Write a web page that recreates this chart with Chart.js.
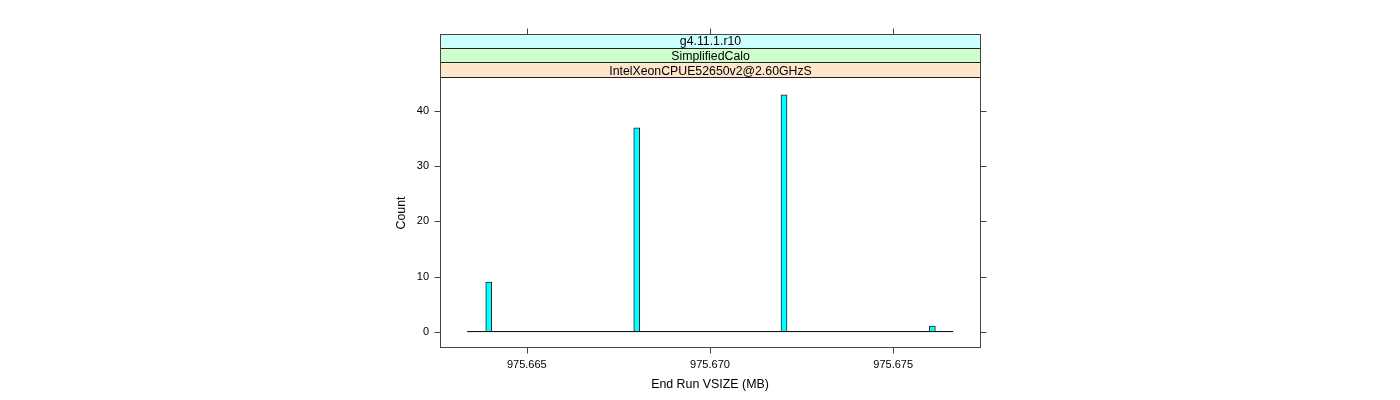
<!DOCTYPE html>
<html><head><meta charset="utf-8">
<script src="https://cdn.jsdelivr.net/npm/chart.js@4/dist/chart.umd.min.js"></script>
<style>html,body{margin:0;padding:0;background:#fff}canvas{display:block}</style>
</head><body>
<canvas id="c" width="1400" height="400"></canvas>
<script>
// ---- data ----
const binCenters = [975.66396, 975.66800, 975.67202, 975.67607];
const counts = [9, 37, 43, 1];
const histRange = [975.66337, 975.67664];
const xTicks = [975.665, 975.670, 975.675];
const yTicks = [0, 10, 20, 30, 40];
const xLimits = [975.66263, 975.67737];
const yLimits = [-2.98, 46.05];
const stripLabels = ['g4.11.1.r10', 'SimplifiedCalo', 'IntelXeonCPUE52650v2@2.60GHzS'];
const stripColors = ['#CCFFFF', '#CCFFCC', '#FFE5CC'];
const xTitle = 'End Run VSIZE (MB)';
const yTitle = 'Count';

const FONT = '"Liberation Sans", Arial, Helvetica, sans-serif';
Chart.defaults.font.family = FONT;
Chart.defaults.color = '#000';

const STRIP_H = 14.6;
const lineCol = '#444';

const panelPlugin = {
  id: 'panel',
  afterDraw(chart) {
    const ctx = chart.ctx;
    const a = chart.chartArea;
    const xs = chart.scales.x, ys = chart.scales.y;
    const L = Math.round(a.left) + 0.5, R = Math.round(a.right) + 0.5;
    const B = Math.round(a.bottom) - 0.5;
    const stripTop = a.top - STRIP_H * stripLabels.length;
    ctx.save();
    for (let i = 0; i < stripLabels.length; i++) {
      const y0 = stripTop + i * STRIP_H;
      ctx.fillStyle = stripColors[i];
      ctx.fillRect(L, y0, R - L, STRIP_H);
      ctx.fillStyle = '#000';
      ctx.font = '12.3px ' + FONT;
      ctx.textAlign = 'center';
      ctx.textBaseline = 'middle';
      ctx.fillText(stripLabels[i], (L + R) / 2, y0 + STRIP_H / 2 + 0.5);
    }
    ctx.strokeStyle = '#222';
    ctx.lineWidth = 1;
    for (let i = 1; i <= stripLabels.length; i++) {
      const y = Math.round(stripTop + i * STRIP_H) - 0.5;
      ctx.beginPath(); ctx.moveTo(L, y); ctx.lineTo(R, y); ctx.stroke();
    }
    ctx.strokeStyle = lineCol;
    const T = Math.round(stripTop) + 0.5;
    ctx.strokeRect(L, T, R - L, B - T);
    ctx.beginPath();
    xTicks.forEach(v => {
      const x = Math.round(xs.getPixelForValue(v)) + 0.5;
      ctx.moveTo(x, T - 6); ctx.lineTo(x, T);
      ctx.moveTo(x, B); ctx.lineTo(x, B + 6);
    });
    yTicks.forEach(v => {
      const y = Math.round(ys.getPixelForValue(v)) + 0.5;
      ctx.moveTo(R, y); ctx.lineTo(R + 6, y);
      ctx.moveTo(L - 6, y); ctx.lineTo(L, y);
    });
    ctx.stroke();
    ctx.restore();
  }
};

new Chart(document.getElementById('c'), {
  data: {
    datasets: [
      {
        type: 'line',
        data: histRange.map(x => ({ x: x, y: 0 })),
        borderColor: '#000',
        borderWidth: 1,
        pointRadius: 0,
        order: 2
      },
      {
        type: 'bar',
        data: binCenters.map((x, i) => ({ x: x, y: counts[i] })),
        backgroundColor: '#00FFFF',
        borderColor: '#222',
        borderWidth: 1,
        borderSkipped: 'start',
        barThickness: 6,
        order: 1
      }
    ]
  },
  options: {
    responsive: false,
    animation: false,
    devicePixelRatio: 1,
    layout: { padding: { left: 390, right: 420, top: 78, bottom: 0 } },
    plugins: { legend: { display: false }, tooltip: { enabled: false } },
    scales: {
      x: {
        type: 'linear',
        bounds: 'data',
        offset: false,
        min: xLimits[0], max: xLimits[1],
        afterBuildTicks: s => { s.ticks = xTicks.map(v => ({ value: v })); },
        afterFit: s => { s.height = 52; },
        border: { display: false },
        grid: { display: true, offset: false, drawOnChartArea: false, drawTicks: true, tickLength: 6, color: 'rgba(0,0,0,0)' },
        ticks: { font: { size: 11 }, padding: 4, maxRotation: 0, autoSkip: false, callback: v => Number(v).toFixed(3) },
        title: { display: true, text: xTitle, font: { size: 12.4 }, padding: { top: 4, bottom: 8 } }
      },
      y: {
        type: 'linear',
        bounds: 'data',
        min: yLimits[0], max: yLimits[1],
        afterBuildTicks: s => { s.ticks = yTicks.map(v => ({ value: v })); },
        afterFit: s => { s.width = 50; },
        border: { display: false },
        grid: { display: true, drawOnChartArea: false, drawTicks: true, tickLength: 6, color: 'rgba(0,0,0,0)' },
        ticks: { font: { size: 11 }, padding: 5, autoSkip: false, callback: v => String(v) },
        title: { display: true, text: yTitle, font: { size: 12.4 }, padding: { top: 4, bottom: 4 } }
      }
    }
  },
  plugins: [panelPlugin]
});
</script>
</body></html>
